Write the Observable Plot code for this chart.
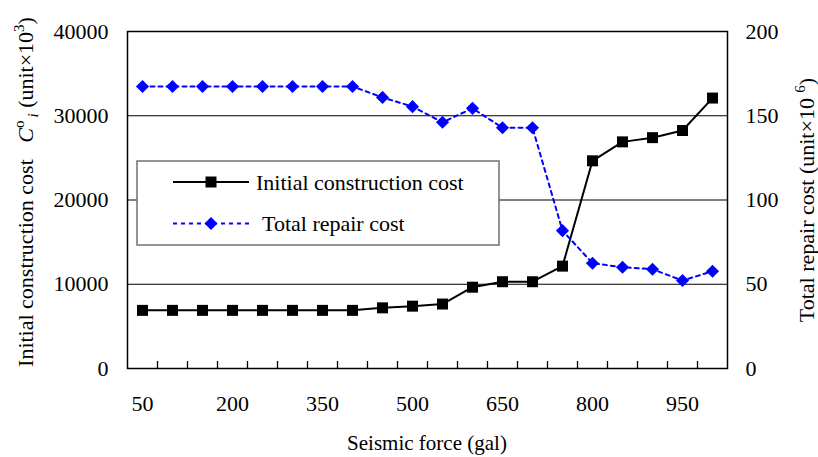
<!DOCTYPE html>
<html>
<head>
<meta charset="utf-8">
<script src="https://cdn.jsdelivr.net/npm/d3@7"></script>
<script src="https://cdn.jsdelivr.net/npm/@observablehq/plot@0.6"></script>
<style>
  body { margin: 0; background: #fff; }
  #chart svg { display: block; }
</style>
</head>
<body>
<div id="chart"></div>
<script>
// Seismic force levels (gal)
const seismicForce = [50, 100, 150, 200, 250, 300, 350, 400, 450, 500,
                      550, 600, 650, 700, 750, 800, 850, 900, 950, 1000];
// Initial construction cost (unit x 10^3), left axis
const initialCost = [6900, 6900, 6900, 6900, 6900, 6900, 6900, 6900, 7200, 7400,
                     7650, 9650, 10300, 10300, 12150, 24650, 26900, 27400, 28250, 32100];
// Total repair cost (unit x 10^6), right axis
const repairCost = [167.4, 167.4, 167.4, 167.4, 167.4, 167.4, 167.4, 167.4, 160.9, 155.4,
                    146.1, 154.4, 142.9, 142.9, 81.8, 62.5, 60.1, 58.9, 52.2, 57.7];

const xTickLabels = [50, 200, 350, 500, 650, 800, 950];
const leftTicks = [0, 10000, 20000, 30000, 40000];
const rightTicks = [0, 50, 100, 150, 200];
const gridValues = [10000, 20000, 30000];

// The right axis (0–200) shares the left scale (0–40000)
const rightFactor = 40000 / 200;

const rows = seismicForce.map((g, i) => ({g, initial: initialCost[i], repair: repairCost[i]}));

const W = 818, H = 457;
const FONT = "'Liberation Serif', 'Times New Roman', serif";

const plot = Plot.plot({
  width: W,
  height: H,
  marginLeft: 127,
  marginRight: 91,
  marginTop: 31,
  marginBottom: 89,
  style: {fontFamily: FONT, fontSize: "22px", background: "white", color: "black"},
  x: {type: "point", domain: seismicForce, padding: 0.5},
  y: {domain: [0, 40000]},
  marks: [
    Plot.ruleY(gridValues, {stroke: "black", strokeWidth: 1}),
    Plot.frame({stroke: "black", strokeWidth: 1.5}),
    // category boundary ticks along the bottom edge
    Plot.tickX(seismicForce.slice(1), {x: d => d, dx: -15, insetTop: 330, stroke: "black", strokeWidth: 1.3}),
    Plot.axisX({ticks: xTickLabels, tickSize: 0, tickPadding: 27, label: null, tickFormat: d => String(d)}),
    Plot.axisY({ticks: leftTicks, tickSize: 0, tickPadding: 19, label: null, tickFormat: d => String(d)}),
    Plot.axisY({anchor: "right", ticks: rightTicks.map(v => v * rightFactor), tickSize: 0, tickPadding: 18,
                label: null, tickFormat: d => String(d / rightFactor)}),
    Plot.line(rows, {x: "g", y: "initial", stroke: "black", strokeWidth: 2}),
    Plot.dot(rows, {x: "g", y: "initial", symbol: "square", r: 6.2, fill: "black", stroke: "none"}),
    Plot.line(rows, {x: "g", y: d => d.repair * rightFactor, stroke: "#0000ff", strokeWidth: 2, strokeDasharray: "4,4"}),
    Plot.dot(rows, {x: "g", y: d => d.repair * rightFactor, symbol: "diamond2", r: 5.9, fill: "#0000ff", stroke: "none"})
  ]
});

document.getElementById("chart").appendChild(plot);

const svg = d3.select(plot);

// Axis titles
svg.append("text")
  .attr("transform", "translate(427,450)")
  .attr("text-anchor", "middle")
  .attr("font-family", FONT).attr("font-size", 21)
  .text("Seismic force (gal)");

const leftTitle = svg.append("text")
  .attr("transform", "translate(25,192) rotate(-90)")
  .attr("text-anchor", "middle")
  .attr("dy", "0.35em")
  .attr("font-family", FONT).attr("font-size", 22);
leftTitle.append("tspan").text("Initial construction cost\u2002 ");
leftTitle.append("tspan").attr("font-style", "italic").text("C");
leftTitle.append("tspan").attr("font-size", 15).attr("dy", -9).text("o");
leftTitle.append("tspan").attr("font-size", 15).attr("font-style", "italic").attr("dy", 14).attr("dx", 3).text("i");
leftTitle.append("tspan").attr("dy", -5).text(" (unit\u00d710");
leftTitle.append("tspan").attr("font-size", 15).attr("dy", -9).text("3");
leftTitle.append("tspan").attr("dy", 9).text(")");

const rightTitle = svg.append("text")
  .attr("transform", "translate(806,200) rotate(-90)")
  .attr("text-anchor", "middle")
  .attr("dy", "0.35em")
  .attr("font-family", FONT).attr("font-size", 22);
rightTitle.append("tspan").text("Total repair cost (unit\u00d710 ");
rightTitle.append("tspan").attr("font-size", 15).attr("dy", -9).text("6");
rightTitle.append("tspan").attr("dy", 9).text(")");

// Legend box
const legend = svg.append("g")
  .attr("font-family", FONT).attr("font-size", 22).attr("text-anchor", "start");
legend.append("rect")
  .attr("x", 137).attr("y", 161).attr("width", 362).attr("height", 84)
  .attr("fill", "white").attr("stroke", "#707070").attr("stroke-width", 1.5);

legend.append("line").attr("x1", 173).attr("x2", 249).attr("y1", 182).attr("y2", 182)
  .attr("stroke", "black").attr("stroke-width", 2);
legend.append("path").attr("transform", "translate(211,182)")
  .attr("d", d3.symbol(d3.symbolSquare, 121)()).attr("fill", "black");
legend.append("text").attr("x", 256).attr("y", 182).attr("dy", "0.35em").text("Initial construction cost");

legend.append("line").attr("x1", 173).attr("x2", 249).attr("y1", 223.5).attr("y2", 223.5)
  .attr("stroke", "#0000ff").attr("stroke-width", 2).attr("stroke-dasharray", "4,4");
legend.append("path").attr("transform", "translate(211,223.5)")
  .attr("d", d3.symbol(d3.symbolDiamond2, 108)()).attr("fill", "#0000ff");
legend.append("text").attr("x", 262).attr("y", 223.5).attr("dy", "0.35em").text("Total repair cost");
</script>
</body>
</html>
